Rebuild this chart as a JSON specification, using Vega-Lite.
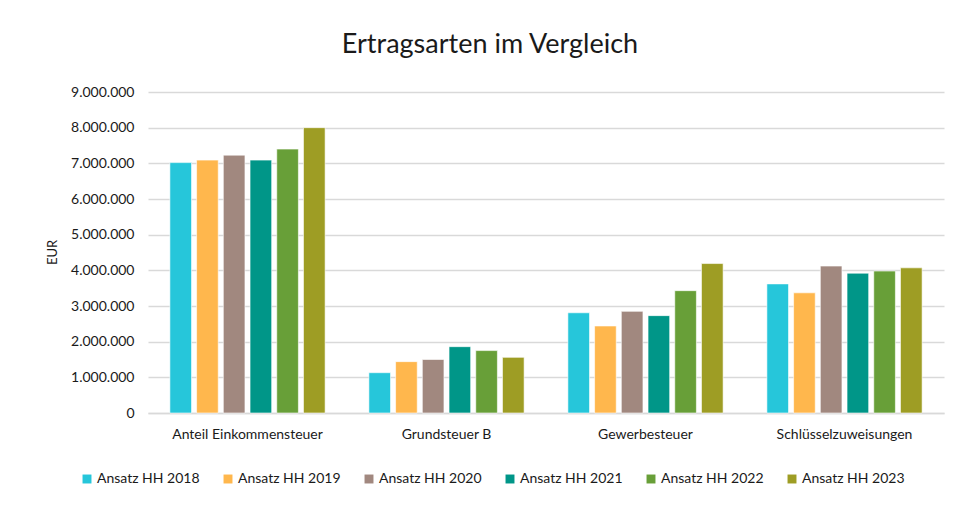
{
  "$schema": "https://vega.github.io/schema/vega-lite/v6.json",
  "width": 796,
  "height": 321,
  "autosize": {"type": "none"},
  "padding": {"left": 148, "top": 92, "right": 16, "bottom": 93},
  "background": "white",
  "title": {"text": "Ertragsarten im Vergleich", "fontSize": 27, "font": "Lato", "fontWeight": "normal", "color": "#1a1a1a", "anchor": "middle", "offset": 26, "dx": -56},
  "config": {
    "locale": {"number": {"decimal": ",", "thousands": ".", "grouping": [3], "currency": ["", " €"]}},
    "view": {"stroke": null},
    "font": "Lato"
  },
  "data": {
    "values": [
      {"Ertragsart": "Anteil Einkommensteuer", "Jahr": "Ansatz HH 2018", "EUR": 7020000},
      {"Ertragsart": "Anteil Einkommensteuer", "Jahr": "Ansatz HH 2019", "EUR": 7090000},
      {"Ertragsart": "Anteil Einkommensteuer", "Jahr": "Ansatz HH 2020", "EUR": 7230000},
      {"Ertragsart": "Anteil Einkommensteuer", "Jahr": "Ansatz HH 2021", "EUR": 7090000},
      {"Ertragsart": "Anteil Einkommensteuer", "Jahr": "Ansatz HH 2022", "EUR": 7400000},
      {"Ertragsart": "Anteil Einkommensteuer", "Jahr": "Ansatz HH 2023", "EUR": 8000000},
      {"Ertragsart": "Grundsteuer B", "Jahr": "Ansatz HH 2018", "EUR": 1130000},
      {"Ertragsart": "Grundsteuer B", "Jahr": "Ansatz HH 2019", "EUR": 1440000},
      {"Ertragsart": "Grundsteuer B", "Jahr": "Ansatz HH 2020", "EUR": 1500000},
      {"Ertragsart": "Grundsteuer B", "Jahr": "Ansatz HH 2021", "EUR": 1860000},
      {"Ertragsart": "Grundsteuer B", "Jahr": "Ansatz HH 2022", "EUR": 1750000},
      {"Ertragsart": "Grundsteuer B", "Jahr": "Ansatz HH 2023", "EUR": 1560000},
      {"Ertragsart": "Gewerbesteuer", "Jahr": "Ansatz HH 2018", "EUR": 2810000},
      {"Ertragsart": "Gewerbesteuer", "Jahr": "Ansatz HH 2019", "EUR": 2440000},
      {"Ertragsart": "Gewerbesteuer", "Jahr": "Ansatz HH 2020", "EUR": 2850000},
      {"Ertragsart": "Gewerbesteuer", "Jahr": "Ansatz HH 2021", "EUR": 2730000},
      {"Ertragsart": "Gewerbesteuer", "Jahr": "Ansatz HH 2022", "EUR": 3430000},
      {"Ertragsart": "Gewerbesteuer", "Jahr": "Ansatz HH 2023", "EUR": 4190000},
      {"Ertragsart": "Schlüsselzuweisungen", "Jahr": "Ansatz HH 2018", "EUR": 3620000},
      {"Ertragsart": "Schlüsselzuweisungen", "Jahr": "Ansatz HH 2019", "EUR": 3370000},
      {"Ertragsart": "Schlüsselzuweisungen", "Jahr": "Ansatz HH 2020", "EUR": 4120000},
      {"Ertragsart": "Schlüsselzuweisungen", "Jahr": "Ansatz HH 2021", "EUR": 3920000},
      {"Ertragsart": "Schlüsselzuweisungen", "Jahr": "Ansatz HH 2022", "EUR": 3980000},
      {"Ertragsart": "Schlüsselzuweisungen", "Jahr": "Ansatz HH 2023", "EUR": 4070000}
    ]
  },
  "mark": {"type": "bar", "stroke": "#ffffff", "strokeOpacity": 0.6, "strokeWidth": 1},
  "encoding": {
    "x": {
      "field": "Ertragsart", "type": "nominal", "sort": null,
      "scale": {"paddingInner": 0.22, "paddingOuter": 0.11},
      "axis": {"title": null, "labelAngle": 0, "labelFontSize": 14, "labelColor": "#1a1a1a", "ticks": false, "domainColor": "#d9d9d9", "domainWidth": 1.5, "labelPadding": 14}
    },
    "xOffset": {"field": "Jahr", "type": "nominal", "scale": {"paddingInner": 0.19}},
    "y": {
      "field": "EUR", "type": "quantitative",
      "scale": {"domain": [0, 9000000], "nice": false},
      "axis": {"title": "EUR", "titleFontSize": 13, "titleFontWeight": "normal", "titleColor": "#1a1a1a", "titleX": -96, "titleY": 160, "titleAngle": -90, "titleBaseline": "middle", "titleAlign": "center", "format": ",d", "values": [0,1000000,2000000,3000000,4000000,5000000,6000000,7000000,8000000,9000000], "labelOverlap": false, "labelFontSize": 14, "labelColor": "#1a1a1a", "labelPadding": 14, "ticks": false, "domain": false, "gridColor": "#d9d9d9", "gridWidth": 1.5}
    },
    "color": {
      "field": "Jahr", "type": "nominal",
      "scale": {"domain": ["Ansatz HH 2018","Ansatz HH 2019","Ansatz HH 2020","Ansatz HH 2021","Ansatz HH 2022","Ansatz HH 2023"], "range": ["#26C6DA","#FFB74D","#A1887F","#009688","#689F38","#9E9D24"]},
      "legend": {"title": null, "orient": "none", "legendX": -68, "legendY": 380, "direction": "horizontal", "columns": 6, "symbolType": "square", "symbolSize": 80, "symbolStrokeWidth": 0, "labelFontSize": 14, "labelColor": "#1a1a1a", "columnPadding": 21, "labelOffset": 3}
    }
  }
}
